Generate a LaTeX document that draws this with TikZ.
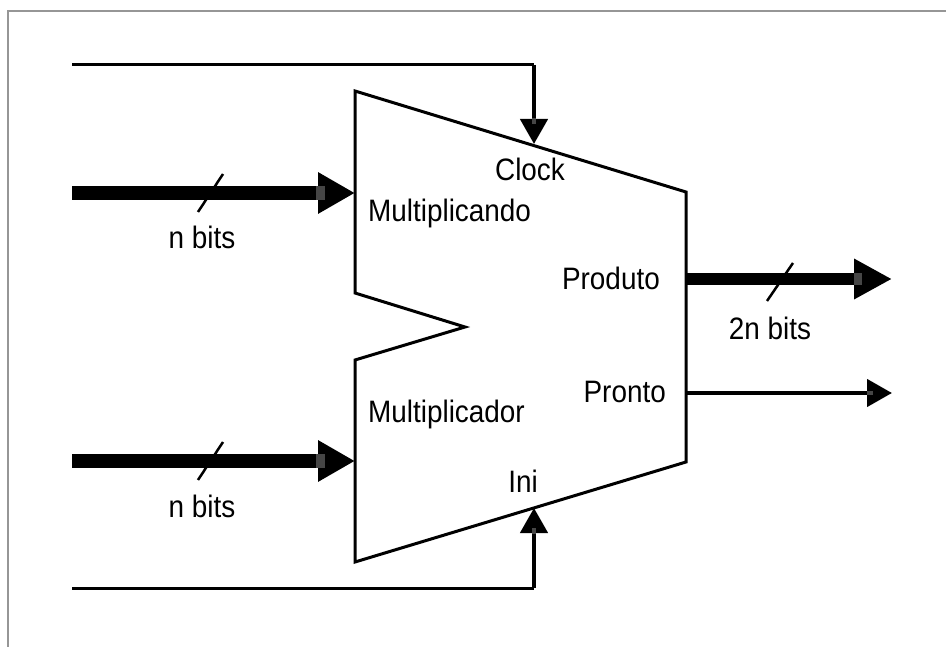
\documentclass[tikz,border=0pt]{standalone}
\usepackage{fontspec}
\setmainfont{Liberation Sans}[FakeStretch=0.9]
\usetikzlibrary{arrows.meta}
\definecolor{framegray}{RGB}{150,150,150}
\definecolor{stubgray}{RGB}{70,70,70}
\tikzset{
  frame/.style={draw=framegray, line width=2pt},
  body/.style={draw=black, line width=3pt, line join=miter},
  busarrow/.style={line width=14pt, -{Triangle[length=37pt,width=39pt]}},
  outbus/.style={line width=12pt, -{Triangle[length=38pt,width=38pt]}},
  sigarrow/.style={line width=4.5pt, -{Triangle[length=25pt,width=27pt]}},
  thinline/.style={line width=3pt},
  slash/.style={line width=2.5pt},
  lbl/.style={inner sep=0pt, font=\fontsize{31}{31}\selectfont, anchor=base},
}
\begin{document}
\begin{tikzpicture}[x=1pt, y=-1pt]
\useasboundingbox (0,0) rectangle (946,647);
% frame (top and left only visible)
\draw[frame] (946,11) -- (8,11) -- (8,647);

% multiplier body
\coordinate (tl) at (355,91);
\coordinate (tr) at (686,192);
\coordinate (br) at (686,462);
\coordinate (bl) at (355,562);
\coordinate (nl) at (355,360);
\coordinate (nt) at (465,327);
\coordinate (nu) at (355,293);
\draw[body] (tl) -- (tr) -- (br) -- (bl) -- (nl) -- (nt) -- (nu) -- cycle;

% ports
\coordinate (mdIn) at (355,193);
\coordinate (mrIn) at (355,461);
\coordinate (clkIn) at (534,144);
\coordinate (iniIn) at (534,508);
\coordinate (prodOut) at (686,279);
\coordinate (prontoOut) at (686,393);

% sources / ends
\coordinate (mdSrc) at (72,193);
\coordinate (mrSrc) at (72,461);
\coordinate (clkSrc) at (72,65);
\coordinate (clkBend) at (534,65);
\coordinate (iniSrc) at (72,588);
\coordinate (iniBend) at (534,588);
\coordinate (prodEnd) at (892,279);
\coordinate (prontoEnd) at (892,393);

% Clock
\draw[thinline] (clkSrc) -- (clkBend);
\draw[sigarrow] (clkBend) -- (clkIn);
% Ini
\draw[thinline] (iniSrc) -- (iniBend);
\draw[sigarrow] (iniBend) -- (iniIn);
% buses
\draw[busarrow] (mdSrc) -- (mdIn);
\draw[busarrow] (mrSrc) -- (mrIn);
\draw[outbus] (prodOut) -- (prodEnd);
\draw[sigarrow] (prontoOut) -- (prontoEnd);

% stubs inside the heads
\fill[stubgray] (316,186) rectangle (325,200);
\fill[stubgray] (316,454) rectangle (325,468);
\fill[stubgray] (854,273) rectangle (862,285);
\fill[stubgray] (867,391) rectangle (873,395);
\fill[stubgray] (532,118) rectangle (536,124);
\fill[stubgray] (532,528) rectangle (536,534);

% bus width slashes
\coordinate (s1a) at (198,212); \coordinate (s1b) at (223,174);
\coordinate (s2a) at (198,480); \coordinate (s2b) at (223,442);
\coordinate (s3a) at (767,301); \coordinate (s3b) at (793,263);
\draw[slash] (s1a) -- (s1b);
\draw[slash] (s2a) -- (s2b);
\draw[slash] (s3a) -- (s3b);

% labels
\node[lbl] (nb1) at (202,249) {n bits};
\node[lbl] (nb2) at (202,517) {n bits};
\node[lbl] (nb3) at (770,340) {2n bits};
\node[lbl] (clk) at (530,181) {Clock};
\node[lbl, anchor=base west] (mcand) at (368,222) {Multiplicando};
\node[lbl, anchor=base west] (mdor) at (368,422) {Multiplicador};
\node[lbl, anchor=base east] (prod) at (660,290) {Produto};
\node[lbl, anchor=base east] (pronto) at (666,402) {Pronto};
\node[lbl] (ini) at (523,492) {Ini};
\end{tikzpicture}
\end{document}
